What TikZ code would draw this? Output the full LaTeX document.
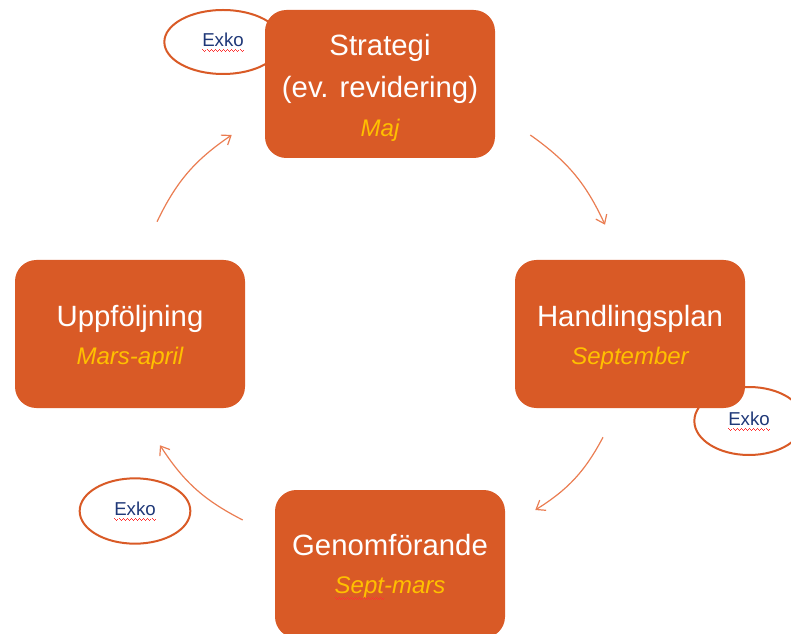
\documentclass[tikz,border=0pt]{standalone}
\usepackage{fontspec}
\setmainfont{Liberation Sans}
\usepackage{xcolor}
\usetikzlibrary{shapes, arrows.meta}

% red spell-check wave under a word
\newsavebox{\wavebox}
\newcommand{\spellwave}[1]{\sbox{\wavebox}{#1}\rlap{\usebox{\wavebox}}%
  \hbox to \wd\wavebox{\color{red!80!white}\xleaders\hbox{\rule[-2.9pt]{0.75pt}{0.6pt}\rule[-3.5pt]{0.75pt}{0.6pt}\rule[-4.1pt]{0.75pt}{0.6pt}\rule[-3.5pt]{0.75pt}{0.6pt}}\hfill}}
% extra room above the first line of a box
\newcommand{\topp}{\rule{0pt}{20.5pt}}

\begin{document}
\begin{tikzpicture}[x=0.75pt, y=-0.75pt]

% Define colors
\definecolor{ruta}{RGB}{217,90,38}
\definecolor{gul}{RGB}{255,192,0}
\definecolor{pilfarg}{RGB}{234,125,82}
\definecolor{exkoblue}{RGB}{31,56,120}

\tikzset{
  fas/.style={rectangle, rounded corners=16pt, fill=ruta, text=white,
    minimum width=172.5pt, minimum height=111pt, align=center,
    font=\fontsize{22}{28.5}\selectfont},
  exko/.style={ellipse, draw=ruta, line width=1.5pt, fill=white,
    text=exkoblue, font=\fontsize{14}{16}\selectfont},
  pil/.style={draw=pilfarg, line width=0.9pt,
    -{Straight Barb[length=6pt,width=9pt]}, bend left=15}
}
\newcommand{\tid}[1]{{\fontsize{18}{22}\selectfont\itshape\color{gul}#1}}

\useasboundingbox (0,0) rectangle (791,634);

% Exko ellipses (behind the boxes)
\node[exko, minimum width=88pt, minimum height=48pt] (exko1) at (223,42) {\spellwave{Exko}};
\node[exko, minimum width=82pt, minimum height=51pt] (exko2) at (749,421) {\spellwave{Exko}};
\node[exko, minimum width=83pt, minimum height=49pt] (exko3) at (135,511) {\spellwave{Exko}};

% The four phases
\node[fas] (strategi) at (380,84) {\rule{0pt}{22pt}Strategi\\[3pt](ev. revidering)\\[0.75pt]\tid{Maj}};
\node[fas] (handling) at (630,334) {\topp Handlingsplan\\\tid{September}};
\node[fas] (genom) at (390,564) {\topp Genomförande\\\tid{\spellwave{Sept}-mars}};
\node[fas] (uppf) at (130,334) {\topp Uppföljning\\\tid{Mars-april}};

% Arrows round the cycle
\draw[pil] ([shift={(35,51)}]strategi.east) to ([shift={(-25,-35)}]handling.north);
\draw[pil] ([shift={(-27,29)}]handling.south) to ([shift={(30,-54)}]genom.east);
\draw[pil] ([shift={(-32,-44)}]genom.west) to ([shift={(30,37)}]uppf.south);
\draw[pil] ([shift={(27,-38)}]uppf.north) to ([shift={(-33,51)}]strategi.west);

\end{tikzpicture}
\end{document}
